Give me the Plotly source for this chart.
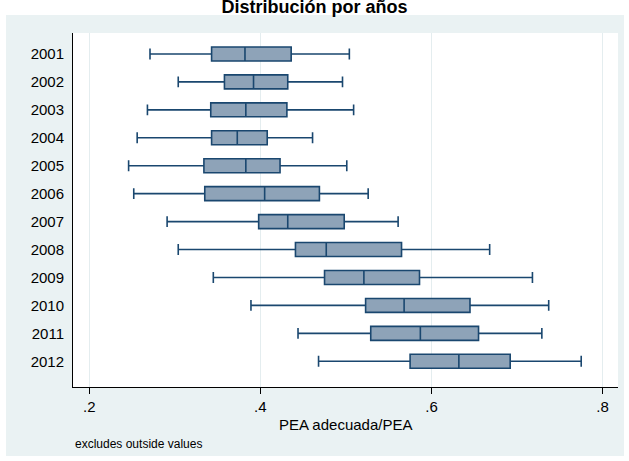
import plotly.graph_objects as go

# Distribución de PEA adecuada/PEA por año (whiskers exclude outside values)
years = ["2001", "2002", "2003", "2004", "2005", "2006",
         "2007", "2008", "2009", "2010", "2011", "2012"]
lower = [0.271, 0.304, 0.268, 0.256, 0.246, 0.252, 0.291, 0.304, 0.345, 0.389, 0.444, 0.468]
q1 = [0.343, 0.358, 0.342, 0.343, 0.334, 0.335, 0.398, 0.441, 0.475, 0.523, 0.529, 0.575]
median = [0.382, 0.392, 0.383, 0.373, 0.383, 0.405, 0.432, 0.477, 0.521, 0.568, 0.587, 0.632]
q3 = [0.436, 0.432, 0.431, 0.408, 0.423, 0.469, 0.498, 0.565, 0.586, 0.645, 0.655, 0.692]
upper = [0.504, 0.496, 0.509, 0.461, 0.501, 0.526, 0.561, 0.668, 0.718, 0.737, 0.729, 0.775]

xticks = [0.2, 0.4, 0.6, 0.8]
xticklabels = [".2", ".4", ".6", ".8"]

NAVY = "#1A476F"
BOXFILL = "#8EA3B8"
REGION = "#EAF2F3"
FONT = "Arial, Liberation Sans, sans-serif"

W, H = 629, 461
ML, MR, MT, MB = 73, 11, 33, 74
plot_h = H - MT - MB
plot_w = W - ML - MR


def py(px):
    """Convert a pixel row (from the top) to paper y."""
    return (H - MB - px) / plot_h


def px_(xpix):
    """Convert a pixel column to paper x."""
    return (xpix - ML) / plot_w


fig = go.Figure()
fig.add_trace(go.Box(
    y=years,
    q1=q1, median=median, q3=q3,
    lowerfence=lower, upperfence=upper,
    orientation="h",
    fillcolor=BOXFILL,
    line=dict(color=NAVY, width=1.6),
    whiskerwidth=0.78,
    width=0.5,
    boxpoints=False,
    hoverinfo="skip",
    showlegend=False,
))

fig.update_layout(
    width=W, height=H,
    margin=dict(l=ML, r=MR, t=MT, b=MB, pad=0),
    paper_bgcolor="white",
    plot_bgcolor="white",
    font=dict(family=FONT, color="black", size=15),
    title=dict(
        text="<b>Distribución por años</b>",
        x=0.5, xref="container", xanchor="center",
        y=1 - 13 / H, yref="container", yanchor="bottom",
        font=dict(family=FONT, size=18, color="black"),
    ),
    xaxis=dict(
        range=[0.181, 0.818],
        tickvals=xticks, ticktext=xticklabels,
        ticks="outside", ticklen=6, tickwidth=1, tickcolor="black",
        showline=True, linecolor="black", linewidth=1,
        showgrid=True, gridcolor="#E4EDEF", gridwidth=1,
        zeroline=False,
        tickfont=dict(size=15),
    ),
    yaxis=dict(
        type="category",
        categoryorder="array", categoryarray=years,
        range=[11.92, -0.75],
        ticks="outside", ticklen=5, tickcolor="rgba(0,0,0,0)",
        showline=True, linecolor="black", linewidth=1,
        showgrid=False, zeroline=False,
        tickfont=dict(size=15),
    ),
    shapes=[
        # graph region
        dict(type="rect", xref="paper", yref="paper", layer="below",
             x0=px_(6), x1=px_(624), y0=py(456), y1=py(15),
             fillcolor=REGION, line=dict(width=0)),
        # plot region
        dict(type="rect", xref="paper", yref="paper", layer="below",
             x0=0, x1=1, y0=0, y1=1,
             fillcolor="white", line=dict(width=0)),
    ],
    annotations=[
        dict(text="PEA adecuada/PEA", xref="paper", yref="paper",
             x=0.5, y=py(424), xanchor="center", yanchor="middle",
             showarrow=False, font=dict(size=15)),
        dict(text="excludes outside values", xref="paper", yref="paper",
             x=px_(73), y=py(444), xanchor="left", yanchor="middle",
             showarrow=False, font=dict(size=12)),
    ],
)

fig.write_html("out.html")
